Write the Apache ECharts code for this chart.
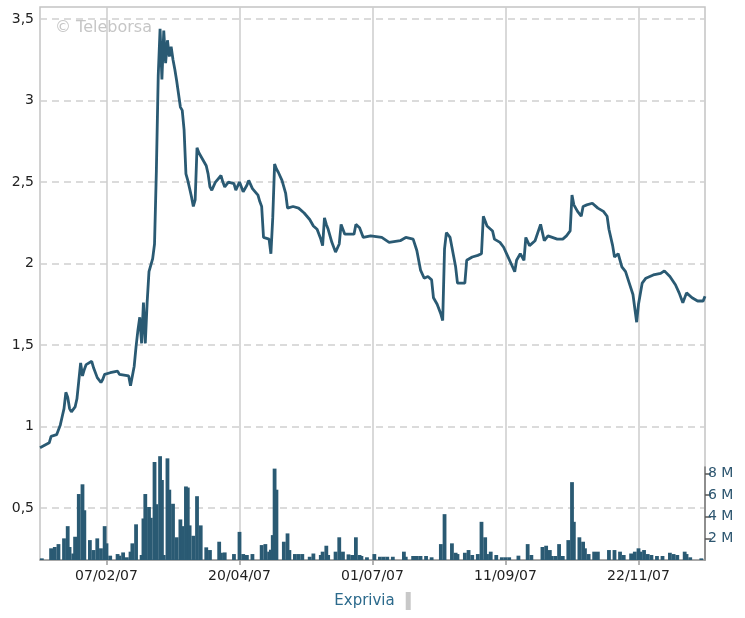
<!DOCTYPE html>
<html>
<head>
<meta charset="utf-8">
<script src="https://cdn.jsdelivr.net/npm/echarts@6/dist/echarts.min.js"></script>
<style>
html,body{margin:0;padding:0;background:#fff;}
#chart{width:745px;height:618px;}
</style>
</head>
<body>
<div id="chart"></div>
<script>
// ---- data ----
const priceDates = ['2007-01-02','2007-01-03','2007-01-07','2007-01-08','2007-01-11','2007-01-13','2007-01-14','2007-01-15','2007-01-16','2007-01-17','2007-01-18','2007-01-19','2007-01-21','2007-01-22','2007-01-23','2007-01-24','2007-01-25','2007-01-26','2007-01-27','2007-01-30','2007-01-31',
'2007-02-02','2007-02-04','2007-02-05','2007-02-06','2007-02-09','2007-02-13','2007-02-14','2007-02-19','2007-02-20','2007-02-21','2007-02-22','2007-02-23','2007-02-24','2007-02-25','2007-02-26','2007-02-27','2007-02-28',
'2007-03-01','2007-03-02','2007-03-03','2007-03-04','2007-03-05','2007-03-06','2007-03-07','2007-03-08','2007-03-09','2007-03-10','2007-03-11','2007-03-12','2007-03-13','2007-03-14','2007-03-15','2007-03-16','2007-03-17','2007-03-18','2007-03-19','2007-03-20','2007-03-21','2007-03-22','2007-03-23','2007-03-24','2007-03-25','2007-03-26','2007-03-27','2007-03-28','2007-03-29','2007-03-30','2007-03-31',
'2007-04-01','2007-04-02','2007-04-03','2007-04-04','2007-04-05','2007-04-07','2007-04-10','2007-04-11','2007-04-12','2007-04-14','2007-04-17','2007-04-18','2007-04-20','2007-04-22','2007-04-24','2007-04-25','2007-04-27','2007-04-30',
'2007-05-01','2007-05-02','2007-05-03','2007-05-06','2007-05-07','2007-05-08','2007-05-09','2007-05-10','2007-05-11','2007-05-13','2007-05-15','2007-05-16','2007-05-19','2007-05-22','2007-05-25','2007-05-28','2007-05-30',
'2007-06-01','2007-06-03','2007-06-04','2007-06-05','2007-06-06','2007-06-07','2007-06-09','2007-06-11','2007-06-13','2007-06-14','2007-06-16','2007-06-21','2007-06-22','2007-06-24','2007-06-26','2007-06-30',
'2007-07-06','2007-07-10','2007-07-16','2007-07-19','2007-07-23','2007-07-25','2007-07-27','2007-07-29','2007-07-31',
'2007-08-01','2007-08-02','2007-08-03','2007-08-05','2007-08-07','2007-08-08','2007-08-09','2007-08-10','2007-08-12','2007-08-13','2007-08-15','2007-08-16','2007-08-20','2007-08-21','2007-08-24','2007-08-27','2007-08-29','2007-08-30',
'2007-09-01','2007-09-04','2007-09-05','2007-09-08','2007-09-10','2007-09-12','2007-09-14','2007-09-16','2007-09-17','2007-09-19','2007-09-21','2007-09-22','2007-09-24','2007-09-27','2007-09-30',
'2007-10-02','2007-10-04','2007-10-09','2007-10-12','2007-10-14','2007-10-16','2007-10-17','2007-10-18','2007-10-20','2007-10-22','2007-10-23','2007-10-25','2007-10-28','2007-10-31',
'2007-11-03','2007-11-05','2007-11-06','2007-11-08','2007-11-09','2007-11-11','2007-11-13','2007-11-15','2007-11-17','2007-11-19','2007-11-21','2007-11-22','2007-11-24','2007-11-26','2007-11-30',
'2007-12-04','2007-12-06','2007-12-09','2007-12-12','2007-12-14','2007-12-16','2007-12-18','2007-12-21','2007-12-24','2007-12-27','2007-12-28'];
const priceValues = [0.87,0.88,0.90,0.94,0.95,1.01,1.06,1.11,1.21,1.18,1.11,1.09,1.12,1.17,1.28,1.39,1.31,1.35,1.38,1.40,1.36,
1.30,1.27,1.29,1.32,1.33,1.34,1.32,1.31,1.25,1.26,1.37,1.49,1.59,1.67,1.51,1.76,1.51,
1.76,1.95,1.99,2.03,2.12,2.57,3.15,3.44,3.13,3.43,3.23,3.37,3.27,3.33,3.25,3.19,3.12,3.04,2.96,2.94,2.82,2.55,2.51,2.46,2.41,2.35,2.39,2.71,2.68,2.66,2.64,
2.62,2.60,2.55,2.47,2.45,2.50,2.54,2.50,2.47,2.50,2.49,2.45,2.50,2.44,2.48,2.51,2.46,2.42,
2.38,2.35,2.16,2.15,2.06,2.28,2.61,2.58,2.56,2.51,2.43,2.34,2.35,2.34,2.31,2.27,2.23,
2.21,2.15,2.11,2.28,2.24,2.21,2.13,2.07,2.12,2.24,2.18,2.18,2.24,2.22,2.16,2.17,
2.16,2.13,2.14,2.16,2.15,2.08,1.96,1.91,1.92,
1.93,1.90,1.79,1.75,1.69,1.65,2.09,2.19,2.16,2.10,1.98,1.88,1.88,2.02,2.04,2.05,2.06,2.29,
2.23,2.20,2.15,2.13,2.10,2.05,2.00,1.95,2.02,2.06,2.02,2.16,2.11,2.14,2.24,
2.14,2.17,2.15,2.15,2.17,2.20,2.42,2.36,2.32,2.29,2.35,2.36,2.37,2.34,
2.32,2.29,2.21,2.11,2.04,2.06,1.98,1.95,1.88,1.81,1.64,1.75,1.88,1.91,1.93,
1.94,1.955,1.92,1.87,1.82,1.76,1.82,1.79,1.77,1.77,1.80];

const volumeDates = ['2007-01-03','2007-01-08','2007-01-10','2007-01-12','2007-01-15','2007-01-17','2007-01-18','2007-01-20','2007-01-21','2007-01-23','2007-01-25','2007-01-26','2007-01-29','2007-01-31',
'2007-02-02','2007-02-04','2007-02-06','2007-02-07','2007-02-09','2007-02-13','2007-02-14','2007-02-16','2007-02-18','2007-02-20','2007-02-21','2007-02-23','2007-02-26','2007-02-27','2007-02-28',
'2007-03-02','2007-03-03','2007-03-05','2007-03-06','2007-03-08','2007-03-09','2007-03-10','2007-03-12','2007-03-13','2007-03-15','2007-03-17','2007-03-19','2007-03-20','2007-03-22','2007-03-23','2007-03-24','2007-03-26','2007-03-28','2007-03-30',
'2007-04-02','2007-04-04','2007-04-09','2007-04-10','2007-04-12','2007-04-17','2007-04-20','2007-04-22','2007-04-24','2007-04-27',
'2007-05-02','2007-05-04','2007-05-06','2007-05-07','2007-05-08','2007-05-09','2007-05-10','2007-05-14','2007-05-16','2007-05-17','2007-05-20','2007-05-22','2007-05-24','2007-05-28','2007-05-30',
'2007-06-03','2007-06-04','2007-06-06','2007-06-07','2007-06-11','2007-06-13','2007-06-15','2007-06-18','2007-06-20','2007-06-22','2007-06-24','2007-06-25','2007-06-28',
'2007-07-02','2007-07-05','2007-07-07','2007-07-09','2007-07-12','2007-07-18','2007-07-19','2007-07-23','2007-07-25','2007-07-27','2007-07-30',
'2007-08-02','2007-08-07','2007-08-09','2007-08-13','2007-08-15','2007-08-16','2007-08-20','2007-08-22','2007-08-24','2007-08-27','2007-08-29','2007-08-31',
'2007-09-01','2007-09-03','2007-09-06','2007-09-09','2007-09-11','2007-09-13','2007-09-18','2007-09-23','2007-09-25',
'2007-10-01','2007-10-03','2007-10-05','2007-10-06','2007-10-08','2007-10-10','2007-10-12','2007-10-15','2007-10-17','2007-10-18','2007-10-21','2007-10-23','2007-10-24','2007-10-26','2007-10-29','2007-10-31',
'2007-11-06','2007-11-09','2007-11-12','2007-11-14','2007-11-18','2007-11-20','2007-11-22','2007-11-23','2007-11-25','2007-11-27','2007-11-29',
'2007-12-02','2007-12-05','2007-12-09','2007-12-11','2007-12-13','2007-12-17','2007-12-18','2007-12-20','2007-12-26'];
const volumeMillions = [0.15,1.08,1.2,1.47,2.0,3.13,1.2,0.6,2.15,6.1,7.0,4.6,1.84,0.92,
2.0,1.08,3.13,1.54,0.4,0.55,0.4,0.7,0.25,0.77,1.54,3.3,0.46,3.84,6.1,
4.9,3.9,9.06,5.16,9.6,7.4,0.46,9.4,6.5,5.2,2.1,3.75,3.13,6.8,6.7,3.2,2.24,5.9,3.2,
1.17,0.92,1.69,0.67,0.7,0.55,2.6,0.55,0.46,0.55,
1.38,1.47,0.77,0.95,2.3,8.45,6.5,1.69,2.46,0.92,0.55,0.55,0.55,0.3,0.6,
0.46,0.77,1.32,0.46,0.77,2.1,0.77,0.52,0.46,2.1,0.46,0.37,0.25,
0.55,0.3,0.3,0.3,0.3,0.77,0.3,0.37,0.37,0.37,0.37,
0.25,1.47,4.24,1.54,0.67,0.55,0.67,0.92,0.46,0.55,3.53,2.1,
0.55,0.77,0.46,0.25,0.25,0.25,0.4,1.47,0.46,
1.2,1.32,0.92,0.37,0.37,1.47,0.37,1.84,7.2,3.53,2.1,1.69,1.08,0.55,0.77,0.77,
0.92,0.92,0.77,0.46,0.6,0.77,1.08,0.77,0.92,0.55,0.46,
0.37,0.37,0.67,0.55,0.46,0.77,0.55,0.25,0.15];

const tickDates = ['2007-02-07','2007-04-20','2007-07-01','2007-09-11','2007-11-22'];
const priceTicks = [0.5,1,1.5,2,2.5,3,3.5];
const volumeTicks = [2,4,6,8];
const rangeStart = '2007-01-02';
const rangeEnd = '2007-12-28';
const seriesName = 'Exprivia';

// ---- helpers ----
function ts(s){const p=s.split('-').map(Number);return Date.UTC(p[0],p[1]-1,p[2]);}
function pad(n){return (n<10?'0':'')+n;}
function fmtDate(v){const d=new Date(v);return pad(d.getUTCDate())+'/'+pad(d.getUTCMonth()+1)+'/'+String(d.getUTCFullYear()).slice(2);}

const lineColor = '#2a5a73';
const FONT = 'DejaVu Sans';
const tickTs = tickDates.map(ts);

const chart = echarts.init(document.getElementById('chart'), null, {renderer:'canvas'});
chart.setOption({
  animation:false,
  backgroundColor:'#ffffff',
  textStyle:{fontFamily:FONT},
  grid:[
    {left:40,right:40,top:7,bottom:58,show:true,borderColor:'#c4c4c4',borderWidth:1.5,backgroundColor:'#ffffff'},
    {left:40,right:40,top:467,bottom:58}
  ],
  graphic:[{type:'text',left:55,top:20,z:1,style:{text:'\u00a9 Teleborsa',fill:'#c6c6c6',font:'16px "DejaVu Sans"'}}],
  legend:{
    bottom:3,left:'center',align:'right',icon:'rect',itemWidth:5,itemHeight:18,itemGap:10,
    data:[{name:seriesName,itemStyle:{color:'#c8c8c8'}}],
    textStyle:{color:'#2c6a8c',fontSize:15,fontFamily:FONT,padding:[0,6,0,0]},
    selectedMode:false
  },
  xAxis:[
    {type:'value',gridIndex:0,min:ts(rangeStart),max:ts(rangeEnd),
     axisLine:{show:true,lineStyle:{color:'#9a9a9a',width:1.5}},
     axisTick:{show:true,customValues:tickTs,length:5,lineStyle:{color:'#9a9a9a',width:1.5}},
     axisLabel:{show:true,customValues:tickTs,formatter:fmtDate,color:'#222',fontSize:14,fontFamily:FONT,margin:9},
     splitLine:{show:true,lineStyle:{color:'#cccccc',width:1.5,type:'solid'}}},
    {type:'value',gridIndex:1,min:ts(rangeStart),max:ts(rangeEnd),show:false,splitLine:{show:false}}
  ],
  yAxis:[
    {type:'value',gridIndex:0,min:0.181,max:3.574,position:'left',
     axisLine:{show:false},
     axisTick:{show:false,customValues:priceTicks},
     axisLabel:{customValues:priceTicks,formatter:v=>String(v).replace('.',','),color:'#222',fontSize:14,fontFamily:FONT,margin:6},
     splitLine:{show:true,lineStyle:{color:'#cfcfcf',width:1.5,type:[7,5]}}},
    {type:'value',gridIndex:1,min:0,max:8.6,position:'right',
     axisLine:{show:true,lineStyle:{color:'#777',width:1.5}},
     axisTick:{show:true,customValues:volumeTicks,length:6,lineStyle:{color:'#555',width:1.5}},
     axisLabel:{customValues:volumeTicks,formatter:v=>v+' M',color:'#2d5670',fontSize:14,fontFamily:FONT,margin:3},
     splitLine:{show:false}}
  ],
  series:[
    {type:'bar',name:'Volume',xAxisIndex:1,yAxisIndex:1,barWidth:3.8,clip:false,
     itemStyle:{color:lineColor},
     data:volumeDates.map((d,i)=>[ts(d),volumeMillions[i]])},
    {type:'line',name:seriesName,xAxisIndex:0,yAxisIndex:0,showSymbol:false,symbol:'none',
     lineStyle:{color:lineColor,width:2.8},itemStyle:{color:lineColor},z:5,
     data:priceDates.map((d,i)=>[ts(d),priceValues[i]])}
  ]
});
</script>
</body>
</html>
